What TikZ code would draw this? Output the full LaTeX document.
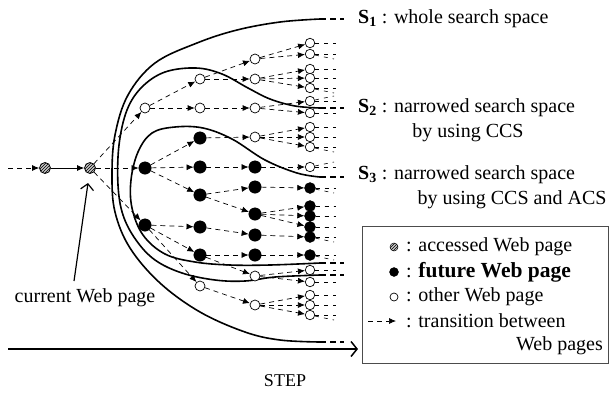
\documentclass[tikz,border=0pt]{standalone}
\usepackage{fontspec}
\setmainfont{Liberation Serif}
\usetikzlibrary{arrows.meta,patterns}
\begin{document}
\begin{tikzpicture}[x=1pt,y=-1pt,
  font=\fontsize{20}{24}\selectfont,
  acc/.style={circle,draw,line width=0.8pt,minimum size=11pt,inner sep=0pt,preaction={fill=gray!45},pattern=north east lines},
  fut/.style={circle,fill=black,draw,minimum size=12.5pt,inner sep=0pt},
  futs/.style={fut,minimum size=11pt},
  oth/.style={circle,draw,fill=white,line width=0.7pt,minimum size=10pt,inner sep=0pt},
  oths/.style={oth,minimum size=9.5pt},
  tr/.style={dash pattern=on 5pt off 4pt,line width=0.7pt,-{Latex[length=7pt,width=6pt]}},
  stub/.style={dash pattern=on 4pt off 5pt,line width=0.6pt},
  bnd/.style={line width=1.6pt},
  bndd/.style={line width=1.6pt,dash pattern=on 6pt off 4pt},
  lab/.style={inner sep=0pt},
]
\useasboundingbox (0,0) rectangle (610,392);

% boundaries
\draw[bnd] plot[smooth,tension=0.6] coordinates {(320,19) (280,22) (237,30) (197,43) (155,63) (128,95) (115,135) (112,175) (115,212) (130,248) (160,283) (200,312) (245,332) (280,340) (320,342)};
\coordinate (b1a) at (320,19); \coordinate (b1b) at (344,19);
\coordinate (b1c) at (320,342); \coordinate (b1d) at (344,342);
\draw[bndd] (b1a) -- (b1b); \draw[bndd] (b1c) -- (b1d);

\draw[bnd] plot[smooth,tension=0.6] coordinates {(320,108) (295,106) (270,99) (248,88) (222,74) (196,68) (165,72) (142,87) (127,110) (119,145) (118,185) (123,215) (136,240) (155,260) (182,273) (215,280) (245,281) (275,277) (320,275)};
\coordinate (b2a) at (320,108); \coordinate (b2b) at (344,108);
\coordinate (b2c) at (320,275); \coordinate (b2d) at (344,275);
\draw[bndd] (b2a) -- (b2b); \draw[bndd] (b2c) -- (b2d);

\draw[bnd] plot[smooth,tension=0.6] coordinates {(320,177) (297,173) (265,160) (232,139) (203,128) (175,127) (152,133) (138,152) (131,180) (132,208) (143,235) (165,254) (195,262) (230,265) (270,265) (320,263)};
\coordinate (b3a) at (320,177); \coordinate (b3b) at (344,177);
\coordinate (b3c) at (320,263); \coordinate (b3d) at (344,263);
\draw[bndd] (b3a) -- (b3b); \draw[bndd] (b3c) -- (b3d);

% accessed pages
\coordinate (in) at (8,168);
\node[acc] (p) at (45,168) {};
\node[acc] (c) at (90,168) {};
\draw[tr] (in) -- (p);
\draw[line width=0.7pt,-{Latex[length=7pt,width=6pt]}] (p) -- (c);

% level 1
\node[oth] (a1) at (145,108) {};
\node[fut] (b1) at (145,168) {};
\node[fut] (c1) at (145,225) {};
\foreach \t in {a1,b1,c1} \draw[tr] (c) -- (\t);

% level 2
\node[oth] (d1) at (200,79) {};
\node[oth] (d2) at (200,108) {};
\node[fut] (d3) at (200,138) {};
\node[fut] (d4) at (200,167) {};
\node[fut] (d5) at (200,195) {};
\node[fut] (d6) at (200,227) {};
\node[fut] (d7) at (200,255) {};
\node[oth] (d8) at (200,286) {};
\foreach \s/\t in {a1/d1,a1/d2,b1/d3,b1/d4,b1/d5,c1/d6,c1/d7,c1/d8} \draw[tr] (\s) -- (\t);

% level 3
\node[oth] (e1) at (255,59) {};
\node[oth] (e2) at (255,79) {};
\node[oth] (e3) at (255,108) {};
\node[oth] (e4) at (255,137) {};
\node[fut] (e5) at (255,167) {};
\node[fut] (e6) at (255,187) {};
\node[fut] (e7) at (255,214) {};
\node[fut] (e8) at (255,235) {};
\node[fut] (e9) at (255,255) {};
\node[oth] (e10) at (255,276) {};
\node[oth] (e11) at (255,305) {};
\foreach \s/\t in {d1/e1,d1/e2,d2/e3,d3/e4,d4/e5,d5/e6,d5/e7,d6/e8,d7/e9,d7/e10,d8/e11} \draw[tr] (\s) -- (\t);

% level 4
\foreach \n/\y/\s/\p/\dy in {f1/43/oths/e1/0, f2/54/oths/e1/5, f3/69/oths/e2/0, f4/78/oths/e2/0, f5/88/oths/e2/5, f6/101/oths/e3/-5, f7/113/oths/e3/0, f8/127/oths/e4/0, f9/137/oths/e4/0, f10/147/oths/e4/5, f11/167/oths/e5/-5, f12/188/futs/e6/5, f13/206/futs/e7/0, f14/216/futs/e7/0, f15/227/futs/e7/0, f16/237/futs/e8/5, f17/255/futs/e9/5, f18/270/oths/e10/0, f19/282/oths/e10/0, f20/295/oths/e11/0, f21/305/oths/e11/0, f22/315/oths/e11/5} {
  \node[\s] (\n) at (310,\y) {};
  \coordinate (\n s) at (336,\y);
  \coordinate (\n t) at (334,\y+\dy);
  \draw[tr] (\p) -- (\n);
  \draw[stub] (\n) -- (\n s);
  \draw[stub] (\n) -- (\n t);
}

% labels
\node[lab,anchor=west] (l1) at (358,19) {\textbf{S\textsubscript{1}} : whole search space};
\node[lab,anchor=west] (l2) at (358,108) {\textbf{S\textsubscript{2}} : narrowed search space};
\node[lab] (l2b) at (468,133) {by using CCS};
\node[lab,anchor=west] (l3) at (358,175) {\textbf{S\textsubscript{3}} : narrowed search space};
\node[lab] (l3b) at (512,200) {by using CCS and ACS};

% current web page
\node[lab] (cur) at (85,298) {current Web page};
\coordinate (curtail) at (74,281);
\coordinate (curtip) at (88,183);
\draw[line width=1.2pt,-{Straight Barb[length=6pt,width=13pt]}] (curtail) -- (curtip);

% step axis
\coordinate (s0) at (8,349);
\coordinate (s1) at (358,349);
\draw[line width=1.5pt,-{Straight Barb[length=6pt,width=15pt]}] (s0) -- (s1);
\node[lab] (step) at (285,381) {\fontsize{18}{21}\selectfont STEP};

% legend
\node[draw=gray!60!black,line width=0.9pt,minimum width=246pt,minimum height=137pt,anchor=north west,inner sep=0pt] (leg) at (362,226) {};
\node[acc,minimum size=8pt,line width=0.5pt] (k1) at (394,247) {};
\node[lab,anchor=west] (t1) at (406,247) {: accessed Web page};
\node[fut,minimum size=9pt] (k2) at (394,272) {};
\node[lab,anchor=west] (t2) at (406,272) {: \textbf{\fontsize{21.5}{24}\selectfont future Web page}};
\node[oth,minimum size=8pt] (k3) at (394,297) {};
\node[lab,anchor=west] (t3) at (406,297) {: other Web page};
\coordinate (k4a) at (368,321); \coordinate (k4b) at (396,321);
\draw[tr] (k4a) -- (k4b);
\node[lab,anchor=west] (t4) at (406,321) {: transition between};
\node[lab,anchor=east] (t5) at (603,346) {Web pages};
\end{tikzpicture}
\end{document}
